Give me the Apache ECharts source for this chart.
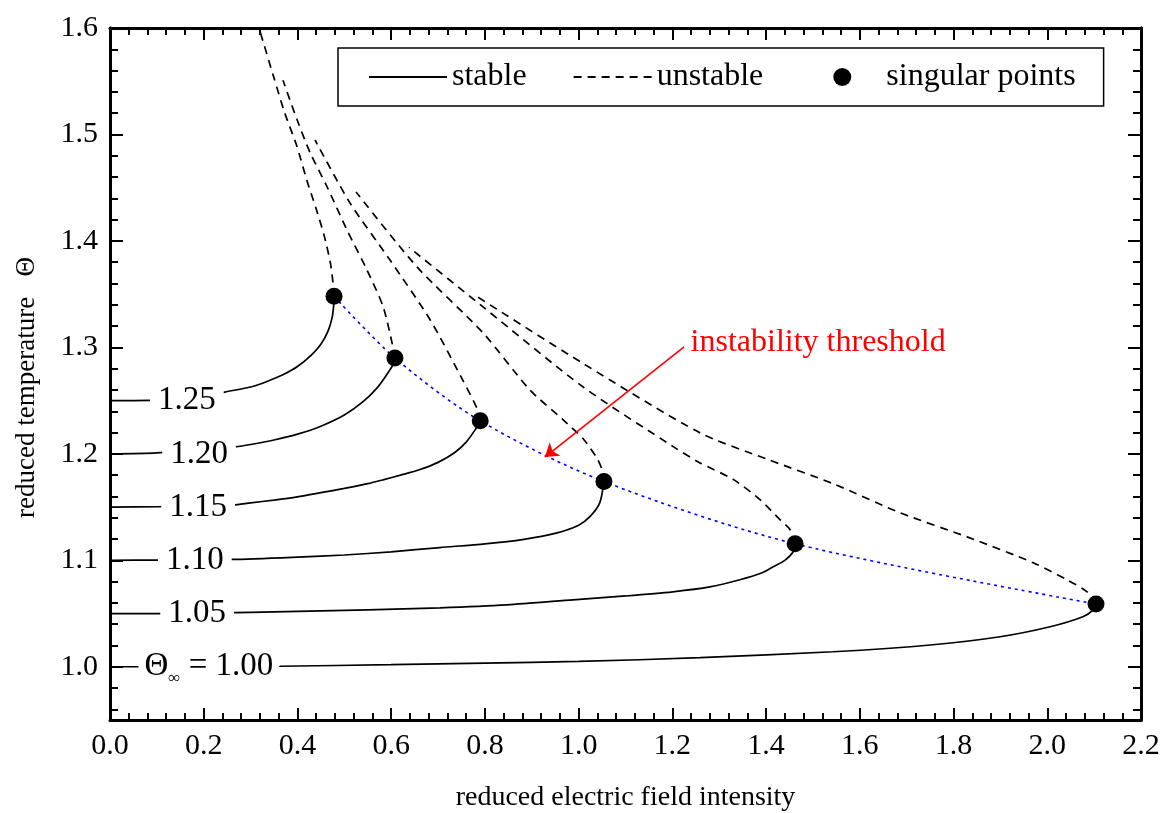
<!DOCTYPE html>
<html>
<head>
<meta charset="utf-8">
<script src="https://cdn.jsdelivr.net/npm/echarts@6.0.0/dist/echarts.min.js"></script>
<style>
  html, body { margin: 0; padding: 0; background: #fff; }
  #main { width: 1166px; height: 813px; }
</style>
</head>
<body>
<div id="main"></div>
<script>
// Θ∞ of every curve and where its label sits
var thetaInf = [1.25, 1.20, 1.15, 1.10, 1.05, 1.00];
var curveLabels = ['1.25', '1.20', '1.15', '1.10', '1.05', '{t|Θ}{s|∞}{t| = 1.00}'];
var curveLabelX = [0.164, 0.190, 0.188, 0.181, 0.186, 0.211];
var curveLabelPad = [8, 8, 8, 8, 8, 6];

// stable branches [E, Θ]
var stable125 = [[0, 1.25], [0.1, 1.2505], [0.2, 1.2535], [0.245, 1.258], [0.30, 1.2628], [0.335, 1.268], [0.37, 1.2745],
  [0.40, 1.282], [0.43, 1.293], [0.45, 1.303], [0.465, 1.315], [0.474, 1.328], [0.477, 1.338], [0.478, 1.348]];
var stable120 = [[0, 1.20], [0.1, 1.201], [0.2, 1.204], [0.267, 1.2066], [0.30, 1.2088], [0.35, 1.213], [0.40, 1.2185],
  [0.45, 1.226], [0.50, 1.2365], [0.54, 1.249], [0.57, 1.262], [0.59, 1.274], [0.603, 1.283], [0.608, 1.290]];
var stable115 = [[0, 1.15], [0.1, 1.1503], [0.2, 1.151], [0.2625, 1.152], [0.30, 1.154], [0.35, 1.1565], [0.40, 1.1595],
  [0.45, 1.1635], [0.50, 1.1675], [0.55, 1.172], [0.5826, 1.1756], [0.62, 1.180], [0.66, 1.185], [0.70, 1.192],
  [0.735, 1.201], [0.76, 1.211], [0.779, 1.2225], [0.790, 1.231]];
var stable110 = [[0, 1.10], [0.1, 1.1002], [0.26, 1.1008], [0.4, 1.103], [0.5, 1.105], [0.6, 1.108], [0.704, 1.112],
  [0.8, 1.1155], [0.88, 1.1195], [0.954, 1.1258], [1.0, 1.133], [1.024, 1.141], [1.045, 1.154], [1.054, 1.174]];
var stable105 = [[0, 1.05], [0.1, 1.05], [0.2, 1.0503], [0.4, 1.052], [0.55, 1.0535], [0.704, 1.0554], [0.847, 1.0582],
  [0.988, 1.0629], [1.1, 1.0665], [1.201, 1.0704], [1.28, 1.075], [1.344, 1.0817], [1.39, 1.088], [1.415, 1.0939],
  [1.44, 1.1], [1.458, 1.108], [1.462, 1.1155]];
var stable100 = [[0, 1.0], [0.2, 1.0], [0.363, 1.0005], [0.6, 1.002], [0.8, 1.0035], [1.0, 1.005], [1.259, 1.0085],
  [1.543, 1.0141], [1.756, 1.0207], [1.899, 1.0282], [2.006, 1.0376], [2.076, 1.047], [2.098, 1.0535], [2.104, 1.059]];

// unstable branches [E, Θ]
var unstable125 = [[0.478, 1.348], [0.476, 1.36], [0.470, 1.38], [0.457, 1.405], [0.44, 1.43], [0.42, 1.457],
  [0.398, 1.49], [0.373, 1.52], [0.35, 1.553], [0.318, 1.60]];
var unstable120 = [[0.608, 1.290], [0.604, 1.300], [0.583, 1.338], [0.548, 1.373], [0.506, 1.410], [0.463, 1.451],
  [0.427, 1.483], [0.399, 1.514], [0.369, 1.551]];
var unstable115 = [[0.790, 1.231], [0.785, 1.241], [0.753, 1.269], [0.683, 1.326], [0.5975, 1.382], [0.512, 1.4357],
  [0.4375, 1.4948]];
var unstable110 = [[1.054, 1.174], [1.050, 1.185], [1.039, 1.196], [1.01, 1.214], [0.967, 1.232], [0.896, 1.26],
  [0.796, 1.3136], [0.655, 1.3756], [0.525, 1.446]];
var unstable105 = [[1.462, 1.1155], [1.451, 1.129], [1.43, 1.138], [1.387, 1.157], [1.33, 1.176], [1.259, 1.1915],
  [1.201, 1.207], [1.009, 1.263], [0.796, 1.338], [0.638, 1.394]];
var unstable100 = [[2.104, 1.059], [2.085, 1.0704], [2.042, 1.0817], [1.970, 1.0977], [1.829, 1.122], [1.686, 1.1446],
  [1.543, 1.172], [1.402, 1.195], [1.259, 1.2197], [1.009, 1.285], [0.775, 1.350]];

// singular points (turning points)
var singularX = [0.478, 0.608, 0.790, 1.054, 1.462, 2.104];
var singularY = [1.348, 1.290, 1.231, 1.174, 1.1155, 1.059];

// annotation arrow: from text to threshold curve
var arrowFrom = [1.225, 1.3005];
var arrowTo = [0.928, 1.197];

// y ticks
var yMajor = [1.0, 1.1, 1.2, 1.3, 1.4, 1.5, 1.6];
var yMinor = [0.96, 0.98, 1.02, 1.04, 1.06, 1.08, 1.12, 1.14, 1.16, 1.18, 1.22, 1.24, 1.26, 1.28,
  1.32, 1.34, 1.36, 1.38, 1.42, 1.44, 1.46, 1.48, 1.52, 1.54, 1.56, 1.58];

var FONT = "'Liberation Serif', 'Times New Roman', serif";
var stableSets = [stable125, stable120, stable115, stable110, stable105, stable100];
var unstableSets = [unstable125, unstable120, unstable115, unstable110, unstable105, unstable100];

function xAxisCfg(pos, showLabel) {
  return {
    type: 'value', position: pos, min: 0, max: 2.2, interval: 0.2,
    axisLine: { show: true, onZero: false, lineStyle: { color: '#000', width: 3 } },
    axisTick: { show: true, inside: true, length: 12, lineStyle: { color: '#000', width: 2 } },
    minorTick: { show: true, splitNumber: 5, length: 7, lineStyle: { color: '#000', width: 2 } },
    splitLine: { show: false }, minorSplitLine: { show: false },
    axisLabel: {
      show: showLabel, margin: 11, color: '#000', fontSize: 30, fontFamily: FONT,
      formatter: function (v) { return v.toFixed(1); }
    },
    name: showLabel ? 'reduced electric field intensity' : '',
    nameLocation: 'middle', nameGap: 64,
    nameTextStyle: { color: '#000', fontSize: 28, fontFamily: FONT }
  };
}

function yAxisCfg(pos, ticks, len, showLabel, withName) {
  return {
    type: 'value', position: pos, min: 0.95, max: 1.6,
    axisLine: { show: true, onZero: false, lineStyle: { color: '#000', width: 3 } },
    axisTick: { show: true, inside: true, length: len, customValues: ticks, lineStyle: { color: '#000', width: 2 } },
    splitLine: { show: false },
    axisLabel: {
      show: showLabel, customValues: ticks, margin: 12, color: '#000', fontSize: 30, fontFamily: FONT,
      formatter: function (v) { return v.toFixed(1); }
    },
    name: withName ? 'reduced temperature   Θ    ' : '',
    nameLocation: 'middle', nameRotate: 90, nameGap: 70,
    nameTextStyle: { color: '#000', fontSize: 27, fontFamily: FONT }
  };
}

var series = [];

series.push({
  type: 'line', name: 'threshold', symbol: 'none', smooth: 0.3, silent: true, z: 2,
  data: singularX.map(function (x, i) { return [x, singularY[i]]; }),
  lineStyle: { color: '#0000ff', width: 1.6, type: [3, 4] }
});

stableSets.forEach(function (d) {
  series.push({
    type: 'line', name: 'stable', symbol: 'none', smooth: 0.25, silent: true, z: 3, data: d,
    itemStyle: { color: '#000' },
    lineStyle: { color: '#000', width: 1.7, type: 'solid' }
  });
});
unstableSets.forEach(function (d) {
  series.push({
    type: 'line', name: 'unstable', symbol: 'none', smooth: 0.25, silent: true, z: 3, data: d,
    itemStyle: { color: '#000' },
    lineStyle: { color: '#000', width: 1.7, type: [8, 6] }
  });
});

series.push({
  type: 'scatter', name: 'singular points', symbol: 'circle', symbolSize: 17, z: 5,
  data: singularX.map(function (x, i) { return [x, singularY[i]]; }),
  itemStyle: { color: '#000', opacity: 1 }
});

// Θ∞ labels sitting on the curves
series.push({
  type: 'scatter', name: 'curve labels', symbolSize: 1, z: 10, silent: true,
  itemStyle: { color: 'rgba(0,0,0,0)', opacity: 1 },
  data: curveLabelX.map(function (x, i) {
    return { value: [x, thetaInf[i]], label: { padding: [2, curveLabelPad[i], 2, curveLabelPad[i]] } };
  }),
  label: {
    show: true, position: 'inside', color: '#000', opacity: 1, fontSize: 33, fontFamily: FONT,
    backgroundColor: '#fff',
    formatter: function (p) { return curveLabels[p.dataIndex]; },
    rich: {
      t: { fontSize: 33, fontFamily: FONT, color: '#000' },
      s: { fontSize: 17, fontFamily: FONT, color: '#000', padding: [24, 0, 0, 0] }
    }
  }
});

// red annotation
series.push({
  type: 'scatter', name: 'note', symbolSize: 1, z: 6, silent: true,
  itemStyle: { color: 'rgba(0,0,0,0)', opacity: 1 },
  data: [arrowFrom],
  label: {
    show: true, position: 'right', distance: 6, offset: [0, -4], opacity: 1,
    formatter: 'instability threshold', color: '#ff0000', fontSize: 32, fontFamily: FONT
  },
  markLine: {
    silent: true, animation: false, symbol: ['none', 'arrow'], symbolSize: 13,
    lineStyle: { color: '#ff0000', width: 1.6, type: 'solid', opacity: 1 },
    label: { show: false },
    data: [[{ coord: arrowFrom }, { coord: arrowTo }]]
  }
});

var chart = echarts.init(document.getElementById('main'), null, { renderer: 'canvas' });
chart.setOption({
  animation: false,
  backgroundColor: '#fff',
  grid: { left: 110, right: 25, top: 28, bottom: 93, containLabel: false, outerBoundsMode: 'none' },
  xAxis: [xAxisCfg('bottom', true), xAxisCfg('top', false)],
  yAxis: [
    yAxisCfg('left', yMajor, 13, true, true),
    yAxisCfg('left', yMinor, 8, false, false),
    yAxisCfg('right', yMajor, 13, false, false),
    yAxisCfg('right', yMinor, 8, false, false)
  ],
  legend: {
    data: [
      { name: 'stable', itemStyle: { opacity: 0 } },
      { name: 'unstable', itemStyle: { opacity: 0 } },
      { name: 'singular points' }
    ],
    formatter: function (name) { return name === 'unstable' ? 'unstable   ' : name; },
    left: 338, top: 48, orient: 'horizontal',
    selectedMode: false,
    itemWidth: 78, itemHeight: 18, itemGap: 46,
    padding: [13, 28, 13, 30],
    borderColor: '#000', borderWidth: 1.5, borderRadius: 0,
    backgroundColor: '#fff',
    textStyle: { color: '#000', fontSize: 32, fontFamily: FONT }
  },
  series: series
});
</script>
</body>
</html>
